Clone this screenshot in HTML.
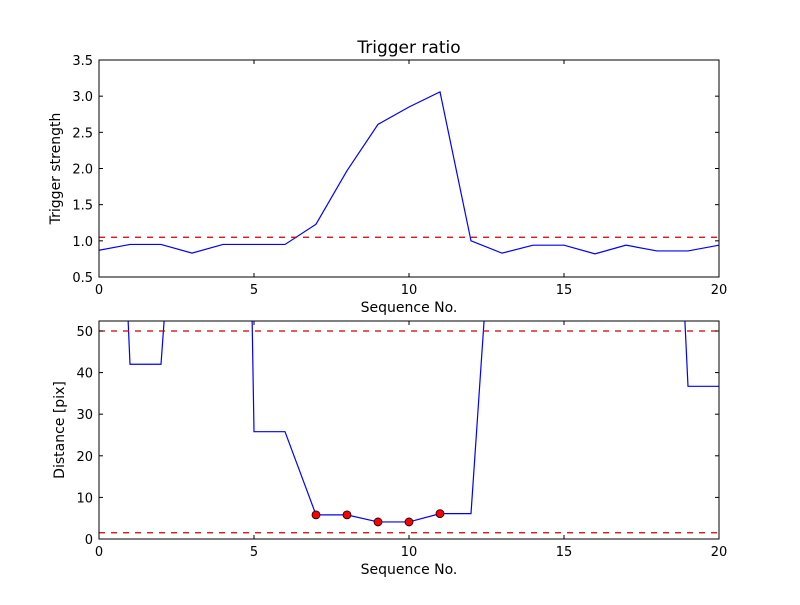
<!DOCTYPE html>
<html><head><meta charset="utf-8"><style>
body{margin:0;background:#fff;}
svg text{font-family:"DejaVu Sans","Liberation Sans",sans-serif;fill:#000;}
</style></head><body>
<svg id="chart" width="800" height="600" xmlns="http://www.w3.org/2000/svg">
<defs>
<clipPath id="c1"><rect x="99" y="60" width="620" height="217"/></clipPath>
<clipPath id="c2"><rect x="99" y="321" width="620" height="218"/></clipPath>
</defs>
<g id="top"></g>
<g id="bot"></g>
</svg>
<script>
const seq = [0,1,2,3,4,5,6,7,8,9,10,11,12,13,14,15,16,17,18,19,20];
const trigger = [0.87,0.95,0.95,0.83,0.95,0.95,0.95,1.23,1.97,2.61,2.85,3.06,1.0,0.83,0.94,0.94,0.82,0.94,0.86,0.86,0.94];
const triggerThreshold = 1.05;
const distance = [215,42,42,146,469,25.8,25.8,5.8,5.8,4.1,4.1,6.1,6.1,116,200,200,200,200,194,36.7,36.7];
const distThresholds = [50,1.5];
const markerSeq = [7,8,9,10,11];
const markerDist = [5.8,5.8,4.1,4.1,6.1];
const xTicks = [0,5,10,15,20];
const yTicksTop = [0.5,1.0,1.5,2.0,2.5,3.0,3.5];
const yTicksBot = [0,10,20,30,40,50];

const NS="http://www.w3.org/2000/svg";
function mk(parent,tag,attrs,text){const e=document.createElementNS(NS,tag);for(const k in attrs)e.setAttribute(k,attrs[k]);if(text!==undefined)e.textContent=text;parent.appendChild(e);return e;}
const X0=99,X1=719;
const sx=v=>X0+(v-0)/(20-0)*(X1-X0);
function panel(g,top,bot,ymin,ymax,yTicks,fmt,clip,ylabel,title){
  const sy=v=>bot-(v-ymin)/(ymax-ymin)*(bot-top);
  return sy;
}
function axes(g,top,bot,sy,yTicks,fmt,ylabel,title){
  const fr=mk(g,'rect',{x:X0,y:top,width:X1-X0,height:bot-top,fill:'none',stroke:'#000','stroke-width':1});
  
  
  xTicks.forEach(t=>{
    const x=sx(t);
    mk(g,'line',{x1:x,x2:x,y1:bot,y2:bot-4,stroke:'#000'});
    mk(g,'line',{x1:x,x2:x,y1:top,y2:top+4,stroke:'#000'});
    const l=mk(g,'text',{x:x,y:bot+17,'text-anchor':'middle','font-size':13},String(t));
    
    
  });
  yTicks.forEach(t=>{
    const y=sy(t);
    mk(g,'line',{x1:X0,x2:X0+4,y1:y,y2:y,stroke:'#000'});
    mk(g,'line',{x1:X1,x2:X1-4,y1:y,y2:y,stroke:'#000'});
    const l=mk(g,'text',{x:X0-6,y:y+5,'text-anchor':'end','font-size':13},fmt(t));
    
    
  });
  const xl=mk(g,'text',{x:409,y:bot+35,'text-anchor':'middle','font-size':14},'Sequence No.');
  
  
  const cy=(top+bot)/2;
  const yl=mk(g,'text',{x:0,y:0,'text-anchor':'middle','font-size':14,transform:`translate(${ylabel[1]},${cy}) rotate(-90)`},ylabel[0]);
  
  
  if(title){const t=mk(g,'text',{x:409,y:top-7,'text-anchor':'middle','font-size':17},title);
    
    }
}
// top
const gt=document.getElementById('top');
const syT=v=>277-(v-0.5)/(3.5-0.5)*(277-60);
const pt=mk(gt,'polyline',{points:seq.map((s,i)=>sx(s)+','+syT(trigger[i])).join(' '),fill:'none',stroke:'#0000ff','stroke-width':1.2,'clip-path':'url(#c1)'});


const th=mk(gt,'line',{x1:X0,x2:X1,y1:syT(triggerThreshold),y2:syT(triggerThreshold),stroke:'#cc0000','stroke-dasharray':'6,6','stroke-width':1.2});


axes(gt,60,277,syT,yTicksTop,t=>t.toFixed(1),['Trigger strength',60],'Trigger ratio');
// bottom
const gb=document.getElementById('bot');
const syB=v=>539-(v-0)/(52.4-0)*(539-321);
const pb=mk(gb,'polyline',{points:seq.map((s,i)=>sx(s)+','+syB(distance[i])).join(' '),fill:'none',stroke:'#0000ff','stroke-width':1.2,'clip-path':'url(#c2)'});


distThresholds.forEach(v=>{
  const l=mk(gb,'line',{x1:X0,x2:X1,y1:syB(v),y2:syB(v),stroke:'#cc0000','stroke-dasharray':'6,6','stroke-width':1.2});
  
  
});
markerSeq.forEach((s,i)=>{
  const c=mk(gb,'circle',{cx:sx(s),cy:syB(markerDist[i]),r:4,fill:'#ff0000',stroke:'#000','stroke-width':0.8});
  
  
});
axes(gb,321,539,syB,yTicksBot,t=>String(t),['Distance [pix]',64],null);
</script>
</body></html>
